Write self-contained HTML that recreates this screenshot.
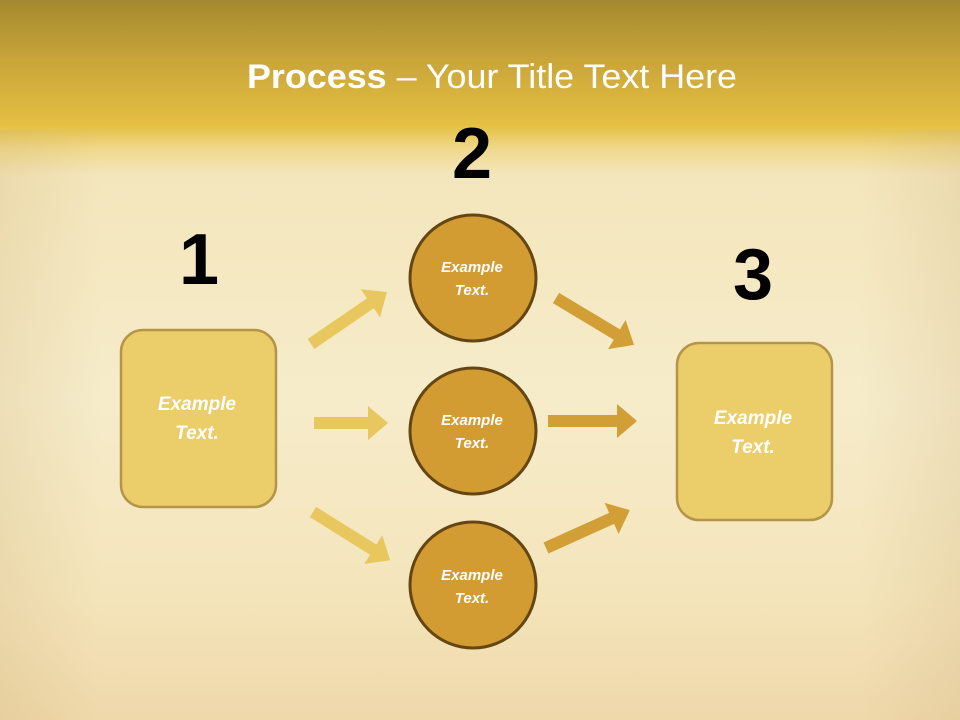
<!DOCTYPE html>
<html><head><meta charset="utf-8"><style>
html,body{margin:0;padding:0;}
body{width:960px;height:720px;overflow:hidden;position:relative;font-family:"Liberation Sans",sans-serif;
background:linear-gradient(180deg,#a3892e 0px,#c9a53a 60px,#e4bf42 125px,#efd88a 148px,#f4e6bc 175px,#f6ecca 400px,#f4e4ba 600px,#efd8aa 720px);}
.side{position:absolute;top:130px;bottom:0;width:100px;}
</style></head><body>
<div class="side" style="left:0;background:linear-gradient(90deg,rgba(200,170,110,0.2),rgba(200,170,110,0));"></div>
<div class="side" style="right:0;background:linear-gradient(270deg,rgba(200,170,120,0.2),rgba(200,170,120,0));"></div>
<svg width="960" height="720" style="position:absolute;left:0;top:0" xmlns="http://www.w3.org/2000/svg">
<text x="492" y="88" text-anchor="middle" fill="#fff" font-size="34" font-family="Liberation Sans, sans-serif" textLength="490" lengthAdjust="spacingAndGlyphs"><tspan font-weight="bold">Process</tspan> – Your Title Text Here</text>
<g font-family="Liberation Sans, sans-serif" font-weight="bold" font-size="72" fill="#000" text-anchor="middle">
<text x="199" y="284">1</text><text x="472" y="178">2</text><text x="753" y="299">3</text>
</g>
<g fill="#e8c75e">
<g transform="translate(311,344) rotate(-34.4)"><polygon points="0,-6 72,-6 72,-17 92,0 72,17 72,6 0,6"/></g>
<g transform="translate(314,423)"><polygon points="0,-6 54,-6 54,-17 74,0 54,17 54,6 0,6"/></g>
<g transform="translate(313,512) rotate(32)"><polygon points="0,-6 71,-6 71,-17 91,0 71,17 71,6 0,6"/></g>
</g>
<g fill="#d29e36">
<g transform="translate(556,298) rotate(31)"><polygon points="0,-6 71,-6 71,-17 91,0 71,17 71,6 0,6"/></g>
<g transform="translate(548,421)"><polygon points="0,-6 69,-6 69,-17 89,0 69,17 69,6 0,6"/></g>
<g transform="translate(546,548) rotate(-24.3)"><polygon points="0,-6 72,-6 72,-17 92,0 72,17 72,6 0,6"/></g>
</g>
<rect x="121" y="330" width="155" height="177" rx="22" fill="#ebcd6a" stroke="#b59348" stroke-width="2.5"/>
<rect x="677" y="343" width="155" height="177" rx="22" fill="#ebcd6a" stroke="#b59348" stroke-width="2.5"/>
<g fill="#d29c33" stroke="#654613" stroke-width="3">
<circle cx="473" cy="278" r="63"/><circle cx="473" cy="431" r="63"/><circle cx="473" cy="585" r="63"/>
</g>
<g fill="#fff" font-family="Liberation Sans, sans-serif" font-weight="bold" font-style="italic" text-anchor="middle">
<g font-size="15"><text x="472" y="272">Example</text><text x="472" y="295">Text.</text>
<text x="472" y="425">Example</text><text x="472" y="448">Text.</text>
<text x="472" y="580">Example</text><text x="472" y="603">Text.</text></g>
<g font-size="19"><text x="197" y="410">Example</text><text x="197" y="439">Text.</text>
<text x="753" y="424">Example</text><text x="753" y="453">Text.</text></g>
</g>
</svg>
</body></html>
